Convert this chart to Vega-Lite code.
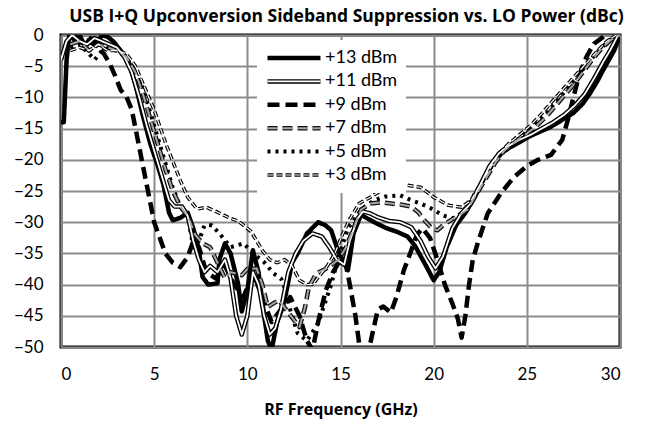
{
  "$schema": "https://vega.github.io/schema/vega-lite/v6.json",
  "width": 559,
  "height": 312,
  "autosize": "none",
  "padding": {"left": 61, "top": 35, "right": 25, "bottom": 76},
  "background": "white",
  "title": {
    "text": "USB I+Q Upconversion Sideband Suppression vs. LO Power (dBc)",
    "font": "Open Sans",
    "fontWeight": "bold",
    "fontSize": 17.5,
    "color": "#000",
    "anchor": "middle",
    "dx": 6,
    "offset": 1
  },
  "config": {
    "view": {"stroke": "#000", "strokeWidth": 3},
    "axis": {
      "labelFont": "Lato",
      "labelFontSize": 17,
      "labelColor": "#000",
      "titleFont": "Open Sans",
      "titleFontSize": 16,
      "titleFontWeight": "bold",
      "titleColor": "#000",
      "ticks": false,
      "domain": false,
      "gridColor": "#8c8c8c",
      "gridWidth": 2,
      "gridOpacity": 1
    },
    "legend": {
      "orient": "none",
      "legendY": 5,
      "symbolType": "stroke",
      "symbolSize": 2809,
      "clipHeight": 20,
      "labelFont": "Lato",
      "labelFontSize": 18,
      "labelColor": "#000",
      "labelOffset": 2,
      "rowPadding": 3.4,
      "padding": 8,
      "labelLimit": 200
    }
  },
  "data": {
    "values": [
      {"s":"+13 dBm","x":0,"y":-14},{"s":"+13 dBm","x":0.15,"y":-14},{"s":"+13 dBm","x":0.3,"y":-4},{"s":"+13 dBm","x":0.45,"y":0},{"s":"+13 dBm","x":0.8,"y":-1},{"s":"+13 dBm","x":1.0,"y":0},{"s":"+13 dBm","x":1.3,"y":-2},{"s":"+13 dBm","x":1.6,"y":-0.5},{"s":"+13 dBm","x":1.9,"y":-1.5},{"s":"+13 dBm","x":2.2,"y":0},{"s":"+13 dBm","x":2.5,"y":-0.3},{"s":"+13 dBm","x":2.8,"y":-1},{"s":"+13 dBm","x":3.2,"y":-2.5},{"s":"+13 dBm","x":3.6,"y":-4},{"s":"+13 dBm","x":4.0,"y":-8},{"s":"+13 dBm","x":4.4,"y":-13},{"s":"+13 dBm","x":4.8,"y":-17.5},{"s":"+13 dBm","x":5.2,"y":-21},{"s":"+13 dBm","x":5.5,"y":-24},{"s":"+13 dBm","x":5.8,"y":-28.5},{"s":"+13 dBm","x":6.0,"y":-29.7},{"s":"+13 dBm","x":6.4,"y":-29.3},{"s":"+13 dBm","x":6.8,"y":-28.5},{"s":"+13 dBm","x":7.1,"y":-31},{"s":"+13 dBm","x":7.4,"y":-34.5},{"s":"+13 dBm","x":7.6,"y":-38.8},{"s":"+13 dBm","x":7.9,"y":-40},{"s":"+13 dBm","x":8.4,"y":-39.8},{"s":"+13 dBm","x":8.5,"y":-36},{"s":"+13 dBm","x":8.8,"y":-33.4},{"s":"+13 dBm","x":9.1,"y":-35},{"s":"+13 dBm","x":9.5,"y":-39.8},{"s":"+13 dBm","x":9.7,"y":-44.3},{"s":"+13 dBm","x":10.0,"y":-41},{"s":"+13 dBm","x":10.3,"y":-34.5},{"s":"+13 dBm","x":10.6,"y":-38},{"s":"+13 dBm","x":10.9,"y":-45},{"s":"+13 dBm","x":11.1,"y":-49},{"s":"+13 dBm","x":11.3,"y":-50.5},{"s":"+13 dBm","x":11.6,"y":-46},{"s":"+13 dBm","x":11.9,"y":-43.6},{"s":"+13 dBm","x":12.1,"y":-41},{"s":"+13 dBm","x":12.4,"y":-36.5},{"s":"+13 dBm","x":12.7,"y":-35},{"s":"+13 dBm","x":13.2,"y":-31.8},{"s":"+13 dBm","x":13.8,"y":-30},{"s":"+13 dBm","x":14.2,"y":-30.5},{"s":"+13 dBm","x":14.5,"y":-31.3},{"s":"+13 dBm","x":14.8,"y":-34},{"s":"+13 dBm","x":15.2,"y":-36.6},{"s":"+13 dBm","x":15.4,"y":-37.7},{"s":"+13 dBm","x":15.7,"y":-31.8},{"s":"+13 dBm","x":16.1,"y":-28.8},{"s":"+13 dBm","x":16.5,"y":-29.5},{"s":"+13 dBm","x":17.0,"y":-30.3},{"s":"+13 dBm","x":17.5,"y":-31},{"s":"+13 dBm","x":18.0,"y":-31.5},{"s":"+13 dBm","x":18.6,"y":-32.3},{"s":"+13 dBm","x":19.0,"y":-33.8},{"s":"+13 dBm","x":19.5,"y":-36.5},{"s":"+13 dBm","x":20.0,"y":-39.3},{"s":"+13 dBm","x":20.3,"y":-38},{"s":"+13 dBm","x":20.7,"y":-34},{"s":"+13 dBm","x":21.2,"y":-30.5},{"s":"+13 dBm","x":21.7,"y":-28.5},{"s":"+13 dBm","x":22.2,"y":-26},{"s":"+13 dBm","x":22.7,"y":-23},{"s":"+13 dBm","x":23.2,"y":-20.5},{"s":"+13 dBm","x":23.6,"y":-19},{"s":"+13 dBm","x":24.1,"y":-18},{"s":"+13 dBm","x":24.6,"y":-17.2},{"s":"+13 dBm","x":25.1,"y":-16.3},{"s":"+13 dBm","x":25.7,"y":-15.5},{"s":"+13 dBm","x":26.3,"y":-14.7},{"s":"+13 dBm","x":26.9,"y":-13.6},{"s":"+13 dBm","x":27.5,"y":-12.5},{"s":"+13 dBm","x":28.0,"y":-11},{"s":"+13 dBm","x":28.4,"y":-9.3},{"s":"+13 dBm","x":28.8,"y":-7.3},{"s":"+13 dBm","x":29.1,"y":-5.6},{"s":"+13 dBm","x":29.4,"y":-4},{"s":"+13 dBm","x":29.7,"y":-2.4},{"s":"+13 dBm","x":30.0,"y":0},

      {"s":"+11 dBm","x":0,"y":-4},{"s":"+11 dBm","x":0.3,"y":-1},{"s":"+11 dBm","x":0.6,"y":0},{"s":"+11 dBm","x":1.0,"y":-1},{"s":"+11 dBm","x":1.4,"y":-1.5},{"s":"+11 dBm","x":1.8,"y":-0.5},{"s":"+11 dBm","x":2.2,"y":-1},{"s":"+11 dBm","x":2.6,"y":-1.5},{"s":"+11 dBm","x":3.0,"y":-2},{"s":"+11 dBm","x":3.4,"y":-3.5},{"s":"+11 dBm","x":3.8,"y":-6},{"s":"+11 dBm","x":4.2,"y":-10},{"s":"+11 dBm","x":4.6,"y":-14.5},{"s":"+11 dBm","x":5.0,"y":-18.5},{"s":"+11 dBm","x":5.4,"y":-22.5},{"s":"+11 dBm","x":5.8,"y":-26.5},{"s":"+11 dBm","x":6.1,"y":-27.5},{"s":"+11 dBm","x":6.5,"y":-27.5},{"s":"+11 dBm","x":6.8,"y":-29},{"s":"+11 dBm","x":7.1,"y":-33},{"s":"+11 dBm","x":7.4,"y":-36},{"s":"+11 dBm","x":7.7,"y":-38},{"s":"+11 dBm","x":8.0,"y":-37},{"s":"+11 dBm","x":8.4,"y":-38},{"s":"+11 dBm","x":8.8,"y":-36},{"s":"+11 dBm","x":9.1,"y":-39},{"s":"+11 dBm","x":9.4,"y":-45},{"s":"+11 dBm","x":9.7,"y":-48},{"s":"+11 dBm","x":10.0,"y":-45},{"s":"+11 dBm","x":10.3,"y":-38},{"s":"+11 dBm","x":10.6,"y":-40},{"s":"+11 dBm","x":10.9,"y":-45},{"s":"+11 dBm","x":11.2,"y":-48},{"s":"+11 dBm","x":11.5,"y":-47},{"s":"+11 dBm","x":11.8,"y":-44},{"s":"+11 dBm","x":12.2,"y":-38},{"s":"+11 dBm","x":12.6,"y":-35},{"s":"+11 dBm","x":13.0,"y":-33},{"s":"+11 dBm","x":13.5,"y":-31.8},{"s":"+11 dBm","x":14.0,"y":-32.3},{"s":"+11 dBm","x":14.4,"y":-34},{"s":"+11 dBm","x":14.8,"y":-36},{"s":"+11 dBm","x":15.2,"y":-36.8},{"s":"+11 dBm","x":15.5,"y":-33},{"s":"+11 dBm","x":15.9,"y":-29.5},{"s":"+11 dBm","x":16.2,"y":-28.3},{"s":"+11 dBm","x":16.6,"y":-28.6},{"s":"+11 dBm","x":17.0,"y":-29.2},{"s":"+11 dBm","x":17.6,"y":-29.8},{"s":"+11 dBm","x":18.2,"y":-30},{"s":"+11 dBm","x":18.8,"y":-30.8},{"s":"+11 dBm","x":19.3,"y":-33},{"s":"+11 dBm","x":19.7,"y":-35.5},{"s":"+11 dBm","x":20.1,"y":-37.4},{"s":"+11 dBm","x":20.5,"y":-35.5},{"s":"+11 dBm","x":21.0,"y":-31},{"s":"+11 dBm","x":21.5,"y":-28.5},{"s":"+11 dBm","x":22.0,"y":-27},{"s":"+11 dBm","x":22.5,"y":-24},{"s":"+11 dBm","x":23.0,"y":-21},{"s":"+11 dBm","x":23.5,"y":-19},{"s":"+11 dBm","x":24.0,"y":-17.8},{"s":"+11 dBm","x":24.6,"y":-16.8},{"s":"+11 dBm","x":25.2,"y":-16},{"s":"+11 dBm","x":25.8,"y":-15},{"s":"+11 dBm","x":26.4,"y":-14},{"s":"+11 dBm","x":27.0,"y":-12.8},{"s":"+11 dBm","x":27.6,"y":-11.2},{"s":"+11 dBm","x":28.1,"y":-9.5},{"s":"+11 dBm","x":28.6,"y":-7},{"s":"+11 dBm","x":29.1,"y":-4.3},{"s":"+11 dBm","x":29.5,"y":-2.3},{"s":"+11 dBm","x":29.9,"y":0},

      {"s":"+9 dBm","x":0.5,"y":-0.5},{"s":"+9 dBm","x":1.0,"y":0},{"s":"+9 dBm","x":1.5,"y":-1},{"s":"+9 dBm","x":2.0,"y":-2},{"s":"+9 dBm","x":2.3,"y":-3},{"s":"+9 dBm","x":2.6,"y":-4.5},{"s":"+9 dBm","x":2.9,"y":-6.5},{"s":"+9 dBm","x":3.2,"y":-8.8},{"s":"+9 dBm","x":3.5,"y":-9.8},{"s":"+9 dBm","x":3.8,"y":-12},{"s":"+9 dBm","x":4.0,"y":-15},{"s":"+9 dBm","x":4.2,"y":-18},{"s":"+9 dBm","x":4.4,"y":-21},{"s":"+9 dBm","x":4.6,"y":-24},{"s":"+9 dBm","x":4.8,"y":-27},{"s":"+9 dBm","x":5.0,"y":-30},{"s":"+9 dBm","x":5.3,"y":-32.5},{"s":"+9 dBm","x":5.6,"y":-35},{"s":"+9 dBm","x":6.0,"y":-36.5},{"s":"+9 dBm","x":6.4,"y":-37.2},{"s":"+9 dBm","x":6.8,"y":-35.6},{"s":"+9 dBm","x":7.1,"y":-33},{"s":"+9 dBm","x":7.4,"y":-34},{"s":"+9 dBm","x":7.8,"y":-38},{"s":"+9 dBm","x":8.3,"y":-39},{"s":"+9 dBm","x":8.8,"y":-37},{"s":"+9 dBm","x":9.3,"y":-40},{"s":"+9 dBm","x":9.8,"y":-42},{"s":"+9 dBm","x":10.3,"y":-38},{"s":"+9 dBm","x":10.8,"y":-42},{"s":"+9 dBm","x":11.3,"y":-46},{"s":"+9 dBm","x":11.8,"y":-44},{"s":"+9 dBm","x":12.3,"y":-42},{"s":"+9 dBm","x":12.8,"y":-45},{"s":"+9 dBm","x":13.2,"y":-49},{"s":"+9 dBm","x":13.5,"y":-50.5},{"s":"+9 dBm","x":13.8,"y":-46},{"s":"+9 dBm","x":14.2,"y":-41},{"s":"+9 dBm","x":14.6,"y":-38},{"s":"+9 dBm","x":15.0,"y":-36},{"s":"+9 dBm","x":15.3,"y":-37},{"s":"+9 dBm","x":15.5,"y":-40},{"s":"+9 dBm","x":15.8,"y":-45},{"s":"+9 dBm","x":16.0,"y":-49.4},{"s":"+9 dBm","x":16.3,"y":-51},{"s":"+9 dBm","x":16.6,"y":-49.4},{"s":"+9 dBm","x":17.0,"y":-44},{"s":"+9 dBm","x":17.3,"y":-43.5},{"s":"+9 dBm","x":17.7,"y":-44.5},{"s":"+9 dBm","x":18.0,"y":-42},{"s":"+9 dBm","x":18.4,"y":-37.7},{"s":"+9 dBm","x":18.8,"y":-34.5},{"s":"+9 dBm","x":19.1,"y":-32},{"s":"+9 dBm","x":19.4,"y":-31},{"s":"+9 dBm","x":19.8,"y":-32.5},{"s":"+9 dBm","x":20.2,"y":-36},{"s":"+9 dBm","x":20.6,"y":-40},{"s":"+9 dBm","x":21.0,"y":-43},{"s":"+9 dBm","x":21.3,"y":-45.5},{"s":"+9 dBm","x":21.5,"y":-48.5},{"s":"+9 dBm","x":21.7,"y":-45},{"s":"+9 dBm","x":21.9,"y":-40},{"s":"+9 dBm","x":22.1,"y":-36},{"s":"+9 dBm","x":22.4,"y":-33},{"s":"+9 dBm","x":22.9,"y":-28.6},{"s":"+9 dBm","x":23.6,"y":-25.4},{"s":"+9 dBm","x":24.3,"y":-22.8},{"s":"+9 dBm","x":25.0,"y":-21},{"s":"+9 dBm","x":25.6,"y":-20},{"s":"+9 dBm","x":26.3,"y":-19.2},{"s":"+9 dBm","x":26.9,"y":-16.8},{"s":"+9 dBm","x":27.2,"y":-13.6},{"s":"+9 dBm","x":27.5,"y":-10},{"s":"+9 dBm","x":27.8,"y":-6.5},{"s":"+9 dBm","x":28.2,"y":-3.5},{"s":"+9 dBm","x":28.6,"y":-1.4},{"s":"+9 dBm","x":29.1,"y":-0.3},{"s":"+9 dBm","x":29.4,"y":0.5},

      {"s":"+7 dBm","x":0.5,"y":-1.5},{"s":"+7 dBm","x":1.0,"y":-1},{"s":"+7 dBm","x":1.5,"y":-2.5},{"s":"+7 dBm","x":2.0,"y":-1.5},{"s":"+7 dBm","x":2.5,"y":-2},{"s":"+7 dBm","x":3.0,"y":-2.5},{"s":"+7 dBm","x":3.5,"y":-3.5},{"s":"+7 dBm","x":4.0,"y":-6},{"s":"+7 dBm","x":4.4,"y":-9.5},{"s":"+7 dBm","x":4.8,"y":-13.5},{"s":"+7 dBm","x":5.2,"y":-17.5},{"s":"+7 dBm","x":5.6,"y":-21.5},{"s":"+7 dBm","x":6.0,"y":-25},{"s":"+7 dBm","x":6.4,"y":-27.5},{"s":"+7 dBm","x":6.8,"y":-29},{"s":"+7 dBm","x":7.2,"y":-32},{"s":"+7 dBm","x":7.6,"y":-33.4},{"s":"+7 dBm","x":8.0,"y":-34},{"s":"+7 dBm","x":8.4,"y":-36.5},{"s":"+7 dBm","x":8.8,"y":-39},{"s":"+7 dBm","x":9.1,"y":-38},{"s":"+7 dBm","x":9.7,"y":-38.5},{"s":"+7 dBm","x":10.0,"y":-37.5},{"s":"+7 dBm","x":10.5,"y":-37.4},{"s":"+7 dBm","x":10.8,"y":-40},{"s":"+7 dBm","x":11.1,"y":-43.6},{"s":"+7 dBm","x":11.4,"y":-43},{"s":"+7 dBm","x":11.7,"y":-42.5},{"s":"+7 dBm","x":12.2,"y":-44.5},{"s":"+7 dBm","x":12.8,"y":-46.8},{"s":"+7 dBm","x":13.1,"y":-43.6},{"s":"+7 dBm","x":13.3,"y":-40.4},{"s":"+7 dBm","x":13.7,"y":-38.2},{"s":"+7 dBm","x":14.2,"y":-37.5},{"s":"+7 dBm","x":14.9,"y":-36},{"s":"+7 dBm","x":15.3,"y":-34},{"s":"+7 dBm","x":15.7,"y":-31},{"s":"+7 dBm","x":16.1,"y":-28},{"s":"+7 dBm","x":16.6,"y":-27},{"s":"+7 dBm","x":17.2,"y":-26.8},{"s":"+7 dBm","x":17.7,"y":-27},{"s":"+7 dBm","x":18.3,"y":-27.2},{"s":"+7 dBm","x":18.8,"y":-27.5},{"s":"+7 dBm","x":19.2,"y":-28.5},{"s":"+7 dBm","x":19.5,"y":-29.7},{"s":"+7 dBm","x":19.9,"y":-31},{"s":"+7 dBm","x":20.2,"y":-31.3},{"s":"+7 dBm","x":20.5,"y":-30.5},{"s":"+7 dBm","x":20.9,"y":-29.7},{"s":"+7 dBm","x":21.4,"y":-28.8},{"s":"+7 dBm","x":21.8,"y":-28},{"s":"+7 dBm","x":22.3,"y":-25.5},{"s":"+7 dBm","x":22.8,"y":-23},{"s":"+7 dBm","x":23.3,"y":-20.5},{"s":"+7 dBm","x":23.8,"y":-18.5},{"s":"+7 dBm","x":24.4,"y":-17},{"s":"+7 dBm","x":25.0,"y":-15.8},{"s":"+7 dBm","x":25.5,"y":-14.6},{"s":"+7 dBm","x":26.0,"y":-13.2},{"s":"+7 dBm","x":26.5,"y":-11.5},{"s":"+7 dBm","x":27.0,"y":-9.7},{"s":"+7 dBm","x":27.5,"y":-8},{"s":"+7 dBm","x":28.0,"y":-6},{"s":"+7 dBm","x":28.5,"y":-4},{"s":"+7 dBm","x":29.0,"y":-2.2},{"s":"+7 dBm","x":29.5,"y":-0.8},{"s":"+7 dBm","x":30.0,"y":0},

      {"s":"+5 dBm","x":0.5,"y":-2},{"s":"+5 dBm","x":1.0,"y":-1.5},{"s":"+5 dBm","x":1.5,"y":-3},{"s":"+5 dBm","x":1.8,"y":-4},{"s":"+5 dBm","x":2.2,"y":-2.5},{"s":"+5 dBm","x":2.6,"y":-2},{"s":"+5 dBm","x":3.0,"y":-2.5},{"s":"+5 dBm","x":3.5,"y":-3.5},{"s":"+5 dBm","x":4.0,"y":-5.5},{"s":"+5 dBm","x":4.4,"y":-8.5},{"s":"+5 dBm","x":4.8,"y":-12.5},{"s":"+5 dBm","x":5.2,"y":-16.5},{"s":"+5 dBm","x":5.6,"y":-20.5},{"s":"+5 dBm","x":6.0,"y":-24.5},{"s":"+5 dBm","x":6.4,"y":-27.5},{"s":"+5 dBm","x":6.8,"y":-29},{"s":"+5 dBm","x":7.1,"y":-34},{"s":"+5 dBm","x":7.4,"y":-33},{"s":"+5 dBm","x":7.7,"y":-30.5},{"s":"+5 dBm","x":8.1,"y":-30.5},{"s":"+5 dBm","x":8.5,"y":-31.8},{"s":"+5 dBm","x":9.1,"y":-34},{"s":"+5 dBm","x":9.8,"y":-33.4},{"s":"+5 dBm","x":10.3,"y":-35},{"s":"+5 dBm","x":10.9,"y":-36.4},{"s":"+5 dBm","x":11.4,"y":-38.2},{"s":"+5 dBm","x":11.8,"y":-39},{"s":"+5 dBm","x":12.0,"y":-40.5},{"s":"+5 dBm","x":12.3,"y":-44},{"s":"+5 dBm","x":12.7,"y":-47.8},{"s":"+5 dBm","x":13.2,"y":-49},{"s":"+5 dBm","x":13.8,"y":-46.2},{"s":"+5 dBm","x":14.1,"y":-43.5},{"s":"+5 dBm","x":14.5,"y":-40},{"s":"+5 dBm","x":14.9,"y":-35.5},{"s":"+5 dBm","x":15.4,"y":-31},{"s":"+5 dBm","x":16.1,"y":-28},{"s":"+5 dBm","x":16.8,"y":-26.5},{"s":"+5 dBm","x":17.4,"y":-25.9},{"s":"+5 dBm","x":18.2,"y":-25.7},{"s":"+5 dBm","x":18.8,"y":-26.5},{"s":"+5 dBm","x":19.3,"y":-27},{"s":"+5 dBm","x":19.8,"y":-27.7},{"s":"+5 dBm","x":20.5,"y":-28.9},{"s":"+5 dBm","x":21.0,"y":-29.4},{"s":"+5 dBm","x":21.5,"y":-28.6},{"s":"+5 dBm","x":22.0,"y":-26.5},{"s":"+5 dBm","x":22.5,"y":-24},{"s":"+5 dBm","x":23.0,"y":-21.5},{"s":"+5 dBm","x":23.5,"y":-19.5},{"s":"+5 dBm","x":24.0,"y":-18},{"s":"+5 dBm","x":24.6,"y":-16.5},{"s":"+5 dBm","x":25.2,"y":-15},{"s":"+5 dBm","x":25.8,"y":-13.4},{"s":"+5 dBm","x":26.4,"y":-11.3},{"s":"+5 dBm","x":27.0,"y":-9.2},{"s":"+5 dBm","x":27.6,"y":-7},{"s":"+5 dBm","x":28.2,"y":-4.8},{"s":"+5 dBm","x":28.7,"y":-3},{"s":"+5 dBm","x":29.2,"y":-1.5},{"s":"+5 dBm","x":29.7,"y":-0.3},{"s":"+5 dBm","x":30.0,"y":0},

      {"s":"+3 dBm","x":0.5,"y":-2.5},{"s":"+3 dBm","x":1.0,"y":-2},{"s":"+3 dBm","x":1.5,"y":-2.5},{"s":"+3 dBm","x":2.0,"y":-1.5},{"s":"+3 dBm","x":2.5,"y":-2.5},{"s":"+3 dBm","x":3.0,"y":-2.5},{"s":"+3 dBm","x":3.5,"y":-3},{"s":"+3 dBm","x":4.0,"y":-5},{"s":"+3 dBm","x":4.5,"y":-8.5},{"s":"+3 dBm","x":5.0,"y":-12},{"s":"+3 dBm","x":5.4,"y":-15.5},{"s":"+3 dBm","x":5.7,"y":-18},{"s":"+3 dBm","x":6.1,"y":-21},{"s":"+3 dBm","x":6.4,"y":-23.3},{"s":"+3 dBm","x":6.8,"y":-26},{"s":"+3 dBm","x":7.3,"y":-27.9},{"s":"+3 dBm","x":7.8,"y":-27.6},{"s":"+3 dBm","x":8.4,"y":-28.4},{"s":"+3 dBm","x":9.1,"y":-29.4},{"s":"+3 dBm","x":9.5,"y":-29.8},{"s":"+3 dBm","x":9.8,"y":-30.5},{"s":"+3 dBm","x":10.2,"y":-31.5},{"s":"+3 dBm","x":10.5,"y":-33},{"s":"+3 dBm","x":10.8,"y":-34.5},{"s":"+3 dBm","x":11.2,"y":-36},{"s":"+3 dBm","x":11.6,"y":-36.5},{"s":"+3 dBm","x":12.0,"y":-36},{"s":"+3 dBm","x":12.4,"y":-37},{"s":"+3 dBm","x":12.8,"y":-39.3},{"s":"+3 dBm","x":13.2,"y":-40},{"s":"+3 dBm","x":13.5,"y":-40},{"s":"+3 dBm","x":13.9,"y":-38.5},{"s":"+3 dBm","x":14.3,"y":-37},{"s":"+3 dBm","x":14.7,"y":-35},{"s":"+3 dBm","x":15.1,"y":-32},{"s":"+3 dBm","x":15.5,"y":-29.5},{"s":"+3 dBm","x":16.0,"y":-27},{"s":"+3 dBm","x":16.6,"y":-26},{"s":"+3 dBm","x":17.2,"y":-24.9},{"s":"+3 dBm","x":17.8,"y":-24.2},{"s":"+3 dBm","x":18.4,"y":-24},{"s":"+3 dBm","x":19.3,"y":-24.4},{"s":"+3 dBm","x":20.0,"y":-26},{"s":"+3 dBm","x":20.8,"y":-27.3},{"s":"+3 dBm","x":21.5,"y":-27.6},{"s":"+3 dBm","x":22.0,"y":-26.5},{"s":"+3 dBm","x":22.5,"y":-24},{"s":"+3 dBm","x":23.0,"y":-21.5},{"s":"+3 dBm","x":23.5,"y":-19},{"s":"+3 dBm","x":24.0,"y":-17.5},{"s":"+3 dBm","x":24.6,"y":-16},{"s":"+3 dBm","x":25.2,"y":-14.5},{"s":"+3 dBm","x":25.8,"y":-12.6},{"s":"+3 dBm","x":26.4,"y":-10.5},{"s":"+3 dBm","x":27.0,"y":-8.5},{"s":"+3 dBm","x":27.6,"y":-6.5},{"s":"+3 dBm","x":28.2,"y":-4.5},{"s":"+3 dBm","x":28.8,"y":-2.5},{"s":"+3 dBm","x":29.3,"y":-1},{"s":"+3 dBm","x":29.8,"y":0}
    ]
  },
  "encoding": {
    "x": {
      "field": "x", "type": "quantitative",
      "scale": {"domain": [0, 30], "nice": false},
      "axis": {"values": [0, 5, 10, 15, 20, 25, 30], "title": "RF Frequency (GHz)", "labelPadding": 19, "titlePadding": 19}
    },
    "y": {
      "field": "y", "type": "quantitative",
      "scale": {"domain": [-50, 0], "nice": false},
      "axis": {"values": [0, -5, -10, -15, -20, -25, -30, -35, -40, -45, -50], "title": null, "labelPadding": 18}
    }
  },
  "layer": [
    {
      "mark": {"type": "line", "clip": true, "strokeJoin": "round"},
      "encoding": {
        "color": {
          "field": "s", "type": "nominal",
          "scale": {"domain": ["+13 dBm", "+11 dBm", "+9 dBm", "+7 dBm", "+5 dBm", "+3 dBm"], "range": ["#000000", "#000000", "#000000", "#111111", "#000000", "#000000"]},
          "legend": {"title": null, "fillColor": "white", "legendX": 196}
        },
        "strokeWidth": {
          "field": "s", "type": "nominal",
          "scale": {"type": "ordinal", "domain": ["+13 dBm", "+11 dBm", "+9 dBm", "+7 dBm", "+5 dBm", "+3 dBm"], "range": [4.5, 4.5, 4.5, 4.5, 4, 3.5]},
          "legend": {"title": null, "fillColor": "white", "legendX": 196}
        },
        "strokeDash": {
          "field": "s", "type": "nominal",
          "scale": {"domain": ["+13 dBm", "+11 dBm", "+9 dBm", "+7 dBm", "+5 dBm", "+3 dBm"], "range": [[1, 0], [1, 0], [12, 6], [10, 5], [3, 5], [6, 3]]},
          "legend": {"title": null, "fillColor": "white", "legendX": 196}
        }
      }
    },
    {
      "transform": [{"filter": {"field": "s", "oneOf": ["+11 dBm", "+7 dBm", "+3 dBm"]}}],
      "mark": {"type": "line", "clip": true, "strokeJoin": "round"},
      "encoding": {
        "color": {
          "field": "s", "type": "nominal",
          "scale": {"domain": ["+13 dBm", "+11 dBm", "+9 dBm", "+7 dBm", "+5 dBm", "+3 dBm"], "range": ["transparent", "#ffffff", "transparent", "#a6a6a6", "transparent", "#ffffff"]},
          "legend": {"title": null, "labelColor": "transparent", "legendX": 197.5}
        },
        "strokeWidth": {
          "field": "s", "type": "nominal",
          "scale": {"type": "ordinal", "domain": ["+13 dBm", "+11 dBm", "+9 dBm", "+7 dBm", "+5 dBm", "+3 dBm"], "range": [1, 1.8, 1, 2, 1, 1.2]},
          "legend": {"title": null, "labelColor": "transparent", "legendX": 197.5}
        },
        "strokeDash": {
          "field": "s", "type": "nominal",
          "scale": {"domain": ["+13 dBm", "+11 dBm", "+9 dBm", "+7 dBm", "+5 dBm", "+3 dBm"], "range": [[1, 0], [1, 0], [12, 6], [10, 5], [3, 5], [6, 3]]},
          "legend": {"title": null, "labelColor": "transparent", "legendX": 197.5}
        }
      }
    }
  ],
  "resolve": {"scale": {"color": "independent", "strokeWidth": "independent", "strokeDash": "independent"}}
}
